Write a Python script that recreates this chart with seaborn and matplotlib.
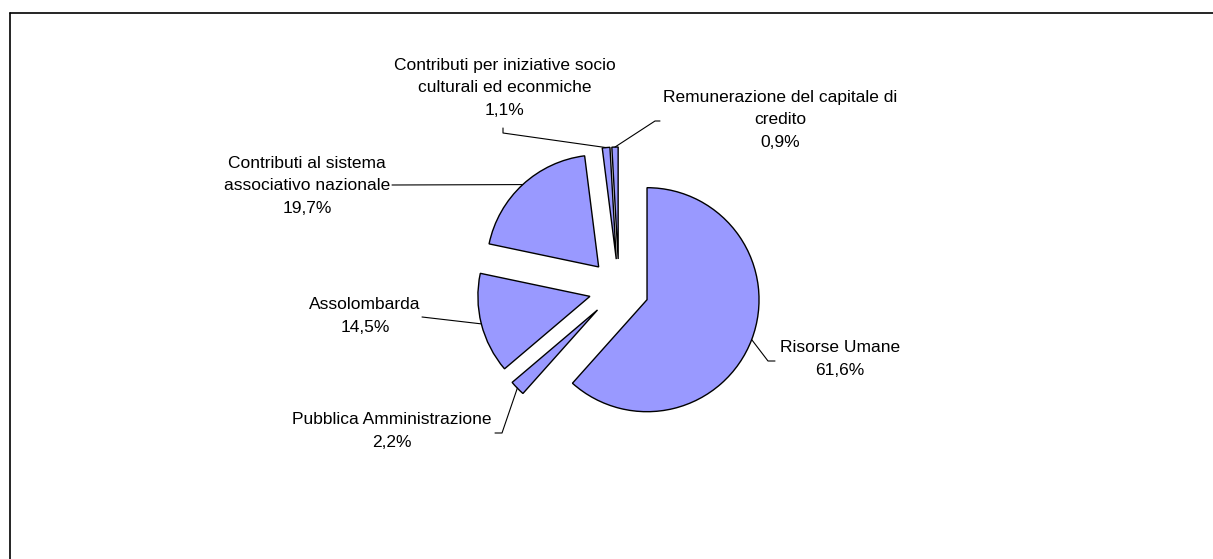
import numpy as np
import matplotlib
matplotlib.use("Agg")
import matplotlib.pyplot as plt
from matplotlib.lines import Line2D
import seaborn as sns

# Ripartizione (valori in %), in senso orario dalle ore 12
labels = ['Risorse Umane', 'Pubblica Amministrazione', 'Assolombarda',
          'Contributi al sistema\nassociativo nazionale',
          'Contributi per iniziative socio\nculturali ed econmiche',
          'Remunerazione del capitale di\ncredito']
values = [61.6, 2.2, 14.5, 19.7, 1.1, 0.9]
pct_labels = ['61,6%', '2,2%', '14,5%', '19,7%', '1,1%', '0,9%']

sns.set_theme(style="white")
plt.rcParams['font.family'] = ['Liberation Sans', 'DejaVu Sans']

W, H = 1213, 559
fig = plt.figure(figsize=(W / 100, H / 100), dpi=100)
ax = fig.add_axes([0, 0, 1, 1])

def py(y):
    # pixel y (dall'alto) -> coordinate dati
    return H - y

radius = 112
wedges, _ = ax.pie(values, startangle=90, counterclock=False,
                   colors=['#9999FF'] * len(values), radius=radius,
                   center=(619, py(289)), explode=[30] * len(values),
                   wedgeprops=dict(edgecolor='black', linewidth=1.0))

# posizioni delle etichette (centro del blocco) e punti di partenza delle linee guida
text_pos = [(840, 359), (392, 431), (365, 316), (307, 186), (505, 88), (780, 120)]
leader_start = [[(775, 361), (768, 361)],
                [(495, 433), (502, 433)],
                [(422, 317)],
                [(392, 185)],
                [(503, 128), (503, 133)],
                [(660, 121), (655, 121)]]

for w, lab, pct, tp, ls in zip(wedges, labels, pct_labels, text_pos, leader_start):
    ang = np.deg2rad((w.theta1 + w.theta2) / 2)
    cx, cy = w.center
    ex, ey = cx + w.r * np.cos(ang), cy + w.r * np.sin(ang)
    xs = [p[0] for p in ls] + [ex]
    ys = [py(p[1]) for p in ls] + [ey]
    ax.plot(xs, ys, color='black', linewidth=0.8)
    ax.text(tp[0], py(tp[1]), lab + '\n' + pct, ha='center', va='center',
            multialignment='center', fontsize=12.5, linespacing=1.62, color='black')

ax.set_xlim(0, W)
ax.set_ylim(0, H)
ax.set_aspect('equal')
ax.axis('off')

# cornice (solo bordo sinistro e superiore visibili)
fig.add_artist(Line2D([10 / W, 10 / W], [0, 1 - 13 / H], color='black', linewidth=1.2))
fig.add_artist(Line2D([10 / W, 1], [1 - 13 / H, 1 - 13 / H], color='black', linewidth=1.2))

fig.savefig('out.png', dpi=100, facecolor='white')
